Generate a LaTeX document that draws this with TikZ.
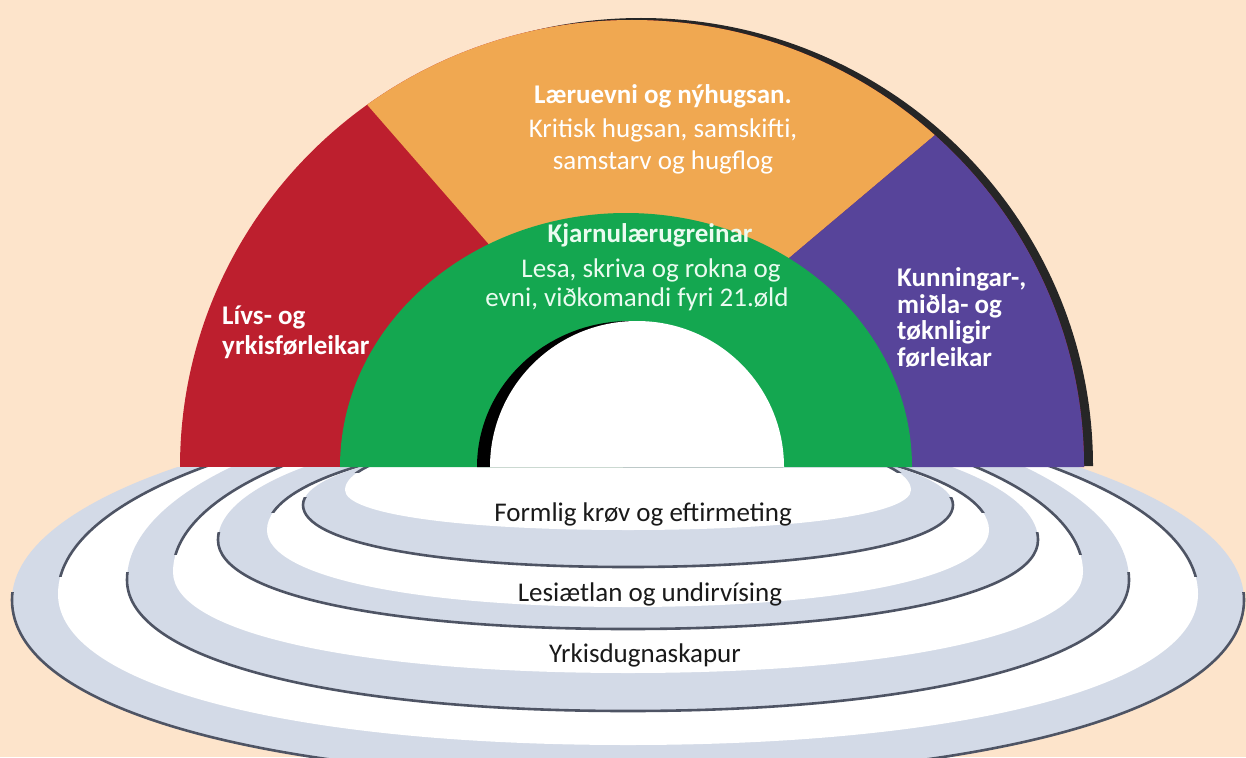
\documentclass[tikz,border=0pt]{standalone}
\usepackage{fontspec}
\setmainfont{Carlito}
\definecolor{peach}{HTML}{FDE4CB}
\definecolor{cred}{HTML}{BD1F2E}
\definecolor{corange}{HTML}{F0A851}
\definecolor{cpurple}{HTML}{57449A}
\definecolor{cgreen}{HTML}{14A750}
\definecolor{band}{HTML}{D3DAE7}
\definecolor{rim}{HTML}{4E5464}
\definecolor{ink}{HTML}{1A1A1A}
\definecolor{mint}{HTML}{EAFBF0}
% tip x, tip y, bottom y, upper half-height
\newcommand{\ringpath}[4]{(#1,#2) arc[start angle=180,end angle=360,x radius={\cx-#1},y radius={#4}] .. controls ({2*\cx-#1},{#2+\kk*(#3-#2)}) and ({\cx+\kk*(\cx-#1)},{#3}) .. (\cx,#3) .. controls ({\cx-\kk*(\cx-#1)},{#3}) and ({#1},{#2+\kk*(#3-#2)}) .. (#1,#2) -- cycle}
\newcommand{\halfdisc}[4]{(#1-#3,#2) arc[start angle=180,end angle=360,x radius=#3,y radius=#4] -- cycle}
\begin{document}
\begin{tikzpicture}[x=1pt,y=-1pt,
  lbl/.style={font=\fontsize{27}{32}\selectfont, text=white, inner sep=0pt},
  blbl/.style={lbl, font=\fontsize{27}{32}\selectfont\bfseries},
  dlbl/.style={lbl, text=ink},
  rimline/.style={draw=rim, line width=2.6pt}]
\fill[peach] (0,0) rectangle (1246,757);
\useasboundingbox (0,0) rectangle (1246,757);
\def\cx{628}
\def\kk{0.6}
% stacked rings
\begin{scope}
\clip (0,467) rectangle (1246,757);
\foreach \xo/\to/\bo/\ao/\xi/\ti/\bi/\ai in {
  12/600/778/195/58/594/745/190,
  127/580/711/185/173/572/673/163,
  218/540/629/119/267/530/607/96,
  303/505/567/67/345/490/530/60} {
  \fill[band] \ringpath{\xo}{\to}{\bo}{\ao};
  \begin{scope}
    \clip (0,{\to-8}) rectangle (1246,900);
    \draw[rimline] \ringpath{\xo}{\to}{\bo}{\ao};
  \end{scope}
  \fill[white] \ringpath{\xi}{\ti}{\bi}{\ai};
  \begin{scope}
    \clip (0,0) rectangle (1246,{\ti-18});
    \draw[rimline] \ringpath{\xi}{\ti}{\bi}{\ai};
  \end{scope}
}
\end{scope}
% rainbow half disc
\fill[black!85] \halfdisc{641}{466}{452}{448};
\begin{scope}
\clip \halfdisc{632}{467}{452}{447};
\fill[cred] (0,0) rectangle (1246,467);
\fill[corange] (623,398) -- (117,-182) -- (1247,-128) -- cycle;
\fill[cpurple] (623,398) -- (1247,-128) -- (1400,-128) -- (1400,480) -- (623,480) -- cycle;
\end{scope}
\fill[cgreen] \halfdisc{626}{467}{286}{254};
\fill[black] \halfdisc{630}{467}{153}{146};
\fill[white] \halfdisc{637}{467}{147}{146};
% labels
\node[blbl, anchor=base] (o1) at (663,104) {Læruevni og nýhugsan.};
\node[lbl, anchor=base] (o2) at (663,137) {Kritisk hugsan, samskifti,};
\node[lbl, anchor=base] (o3) at (663,169) {samstarv og hugflog};
\node[blbl, anchor=base, text=mint] (g1) at (650,242) {Kjarnulærugreinar};
\node[lbl, anchor=base, text=mint] (g2) at (651,277) {Lesa, skriva og rokna og};
\node[lbl, anchor=base, text=mint] (g3) at (637,306) {evni, viðkomandi fyri 21.øld};
\node[blbl, anchor=base west] (r1) at (222,324) {Lívs- og};
\node[blbl, anchor=base west] (r2) at (222,354) {yrkisførleikar};
\node[blbl, anchor=base west] (p1) at (897,286) {Kunningar-,};
\node[blbl, anchor=base west] (p2) at (897,313) {miðla- og};
\node[blbl, anchor=base west] (p3) at (897,339) {tøknligir};
\node[blbl, anchor=base west] (p4) at (897,366) {førleikar};
\node[dlbl, anchor=base] (b1) at (643,521) {Formlig krøv og eftirmeting};
\node[dlbl, anchor=base] (b2) at (650,601) {Lesiætlan og undirvísing};
\node[dlbl, anchor=base] (b3) at (645,662) {Yrkisdugnaskapur};
\end{tikzpicture}
\end{document}
